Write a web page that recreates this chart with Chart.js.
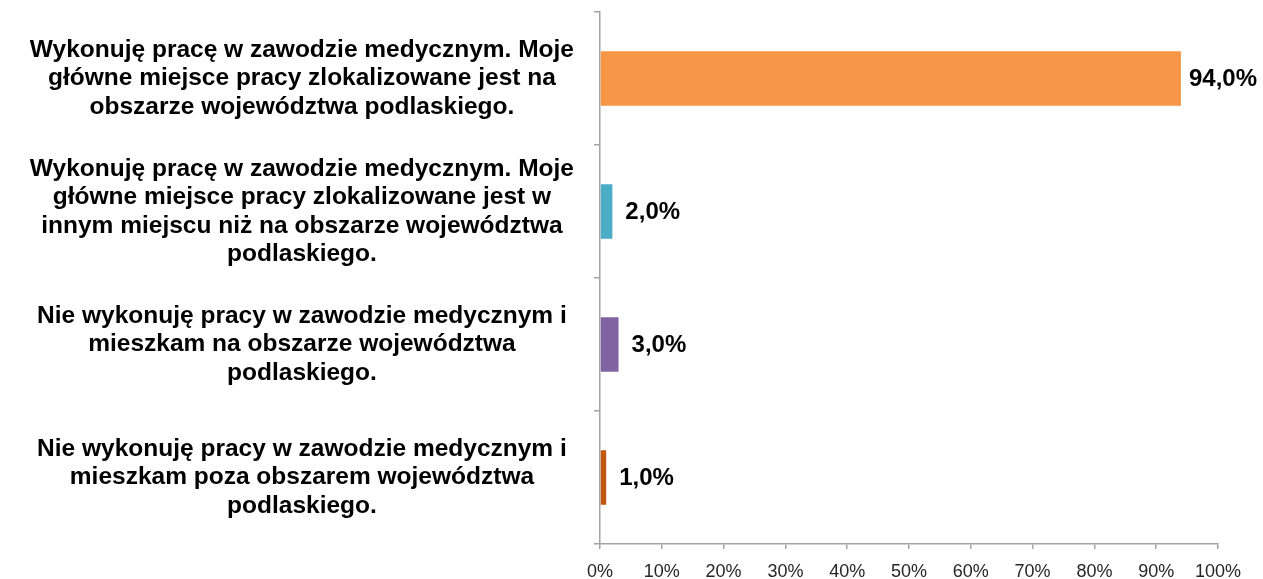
<!DOCTYPE html>
<html>
<head>
<meta charset="utf-8">
<script src="https://cdn.jsdelivr.net/npm/chart.js@4/dist/chart.umd.min.js"></script>
<style>
	html, body { margin: 0; padding: 0; background: #fff; }
	#wrap { width: 1263px; height: 579px; }
</style>
</head>
<body>
<div id="wrap"><canvas id="chart-work"></canvas></div>
<script>
const categories = [
	['Wykonuję pracę w zawodzie medycznym. Moje', 'główne miejsce pracy zlokalizowane jest na', 'obszarze województwa podlaskiego.'],
	['Wykonuję pracę w zawodzie medycznym. Moje', 'główne miejsce pracy zlokalizowane jest w', 'innym miejscu niż na obszarze województwa', 'podlaskiego.'],
	['Nie wykonuję pracy w zawodzie medycznym i', 'mieszkam na obszarze województwa', 'podlaskiego.'],
	['Nie wykonuję pracy w zawodzie medycznym i', 'mieszkam poza obszarem województwa', 'podlaskiego.']
];
const percentValues = [94.0, 2.0, 3.0, 1.0];
const barColors = ['#F79646', '#4BACC6', '#8064A2', '#C0580F'];
const xTicks = [0, 10, 20, 30, 40, 50, 60, 70, 80, 90, 100];

const axisGray = '#A3A3A3';

// value labels to the right of each bar
const valueLabels = {
	id: 'valueLabels',
	afterDatasetsDraw(chart) {
		const ctx = chart.ctx;
		const meta = chart.getDatasetMeta(0);
		ctx.save();
		ctx.font = 'bold 24px "Liberation Sans", Arial, sans-serif';
		ctx.fillStyle = '#000';
		ctx.textBaseline = 'middle';
		ctx.textAlign = 'left';
		meta.data.forEach((bar, i) => {
			const text = percentValues[i].toFixed(1).replace('.', ',') + '%';
			const w = ctx.measureText(text).width;
			let x = bar.x + 13;
			if (x + w > chart.width - 6) x = chart.width - 6 - w;
			ctx.fillText(text, x, bar.y + 1);
		});
		ctx.restore();
	}
};

let workChartCtx = document.getElementById('chart-work');
let workChart = new Chart(workChartCtx, {
	type: 'bar',
	data: {
		labels: categories,
		datasets: [{
			data: percentValues,
			backgroundColor: barColors,
			borderWidth: 0,
			barPercentage: 0.41,
			categoryPercentage: 1
		}]
	},
	options: {
		indexAxis: 'y',
		responsive: true,
		maintainAspectRatio: false,
		animation: false,
		layout: { padding: { top: 12, right: 45, left: 0, bottom: 0 } },
		plugins: {
			legend: { display: false },
			tooltip: { enabled: false }
		},
		scales: {
			x: {
				min: 0,
				max: 100,
				afterBuildTicks: (scale) => {
					scale.ticks = xTicks.map(v => ({ value: v }));
				},
				afterFit: (scale) => {
					scale.height = 35;
					scale.paddingLeft = 0;
					scale.paddingRight = 0;
				},
				border: { color: axisGray, width: 1.5 },
				grid: { drawOnChartArea: false, drawTicks: true, tickLength: 5, color: axisGray, lineWidth: 1.5 },
				ticks: {
					padding: 12,
					maxRotation: 0,
					color: '#262626',
					font: { family: '"Liberation Sans", Arial, sans-serif', size: 18 },
					callback: (v) => v + '%'
				}
			},
			y: {
				afterFit: (scale) => {
					scale.width = 600;
					scale.paddingTop = 0;
					scale.paddingBottom = 0;
				},
				border: { color: axisGray, width: 1.5 },
				grid: { drawOnChartArea: false, drawTicks: true, tickLength: 6, color: axisGray, lineWidth: 1.5, offset: true },
				ticks: {
					crossAlign: 'center',
					padding: 20,
					color: '#000',
					font: { family: '"Liberation Sans", Arial, sans-serif', size: 24.5, weight: 'bold', lineHeight: '28.5px' }
				}
			}
		}
	},
	plugins: [valueLabels]
});
</script>
</body>
</html>
